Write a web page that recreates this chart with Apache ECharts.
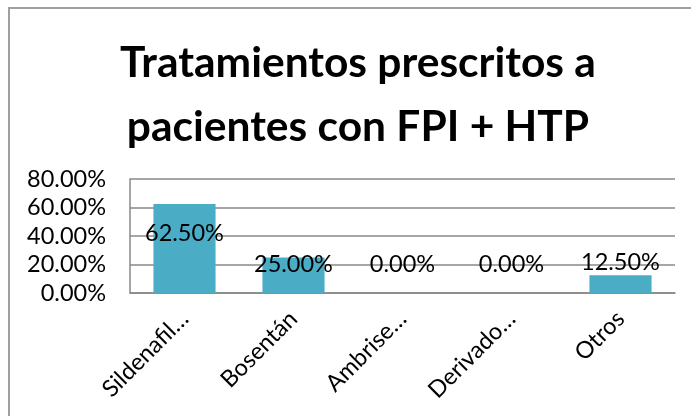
<!DOCTYPE html>
<html>
<head>
<meta charset="utf-8">
<script src="https://cdn.jsdelivr.net/npm/echarts@6/dist/echarts.min.js"></script>
<style>
  html, body { margin: 0; padding: 0; background: #fff; }
  #main { width: 691px; height: 416px; }
</style>
</head>
<body>
<div id="main"></div>
<script>
var categories = ['Sildenafil\u2026', 'Bosent\u00e1n', 'Ambrise\u2026', 'Derivado\u2026', 'Otros'];
var values = [0.625, 0.25, 0, 0, 0.125];
var yTicks = [0, 0.2, 0.4, 0.6, 0.8];

// label vertical shifts (px), relative to the bar top
var labelShift = [41, 19, -17, -17, -1];

var chartDom = document.getElementById('main');
var myChart = echarts.init(chartDom);

var font = 'Lato';

var option = {
  animation: false,
  title: {
    text: 'Tratamientos prescritos a\npacientes con FPI + HTP',
    left: 353,
    textAlign: 'center',
    top: 26,
    textStyle: {
      fontFamily: font,
      fontWeight: 'bold',
      fontSize: 42.5,
      lineHeight: 64,
      color: '#000'
    }
  },
  graphic: [{
    type: 'rect',
    shape: { x: 9, y: 8, width: 700, height: 420 },
    style: { fill: 'none', stroke: '#a0a0a0', lineWidth: 2 }
  }],
  grid: { left: 130, right: 16, top: 179, bottom: 123 },
  xAxis: {
    type: 'category',
    data: categories,
    axisLine: { lineStyle: { color: '#888', width: 1.5 } },
    axisTick: { show: false },
    axisLabel: {
      rotate: 45,
      interval: 0,
      color: '#000',
      fontFamily: font,
      fontSize: 23.5,
      margin: 22
    }
  },
  yAxis: {
    type: 'value',
    min: yTicks[0],
    max: yTicks[yTicks.length - 1],
    interval: 0.2,
    axisLine: { show: true, lineStyle: { color: '#888', width: 1.5 } },
    axisTick: { show: false },
    splitLine: { lineStyle: { color: '#888', width: 1.5 } },
    axisLabel: {
      color: '#000',
      fontFamily: font,
      fontSize: 23.5,
      margin: 24,
      formatter: function (v) { return (v * 100).toFixed(2) + '%'; }
    }
  },
  series: [{
    type: 'bar',
    barWidth: '57%',
    itemStyle: { color: '#4BACC6' },
    data: values.map(function (v, i) {
      return {
        value: v,
        label: {
          show: true,
          position: 'top',
          distance: 0,
          offset: [0, labelShift[i]],
          color: '#000',
          fontFamily: font,
          fontSize: 23.5,
          formatter: function (p) { return (p.value * 100).toFixed(2) + '%'; }
        }
      };
    })
  }]
};

myChart.setOption(option);
</script>
</body>
</html>
